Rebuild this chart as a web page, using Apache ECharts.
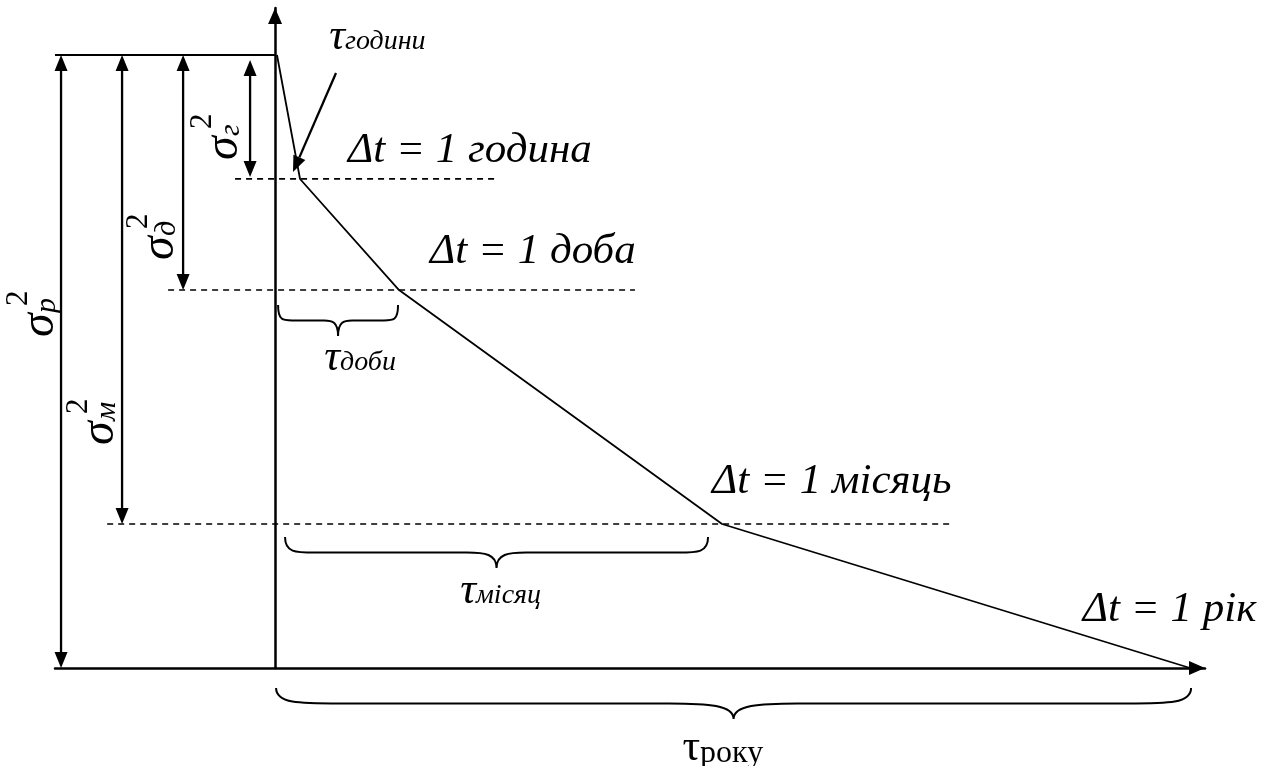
<!DOCTYPE html>
<html><head><meta charset="utf-8">
<script src="https://cdn.jsdelivr.net/npm/echarts@6/dist/echarts.min.js"></script>
<style>html,body{margin:0;padding:0;background:#fff}#c{width:1268px;height:766px}</style>
</head><body><div id="c"></div>
<script>
// x: time as % of a year (0 = vertical axis, 100 = 1 рік); y: variance as % of σp²
const curveX = [0.21, 2.73, 13.55, 48.85, 100];
const curveY = [100, 79.77, 61.66, 23.49, 0];
const levelY = [79.8, 61.66, 23.49];            // after 1 година, 1 доба, 1 місяць
const levelXStart = [-4.37, -11.69, -18.35];
const levelXEnd = [24.04, 39.33, 73.75];
const topLineX = [-24.05, 0];
const topValue = 100;
const xAxisMin = -24.05, xAxisMax = 101.63;
const yAxisMin = 0, yAxisMax = 107.67;

const sigmaNames = ['p', 'м', 'д', 'г'];
const sigmaArrowX = [-23.39, -16.72, -10.05, -2.73];
const sigmaArrowFrom = [100, 100, 100, 99.2];
const sigmaArrowTo = [0, 23.49, 61.66, 80.1];
const sigmaLabelX = [-25.69, -19.13, -12.56, -5.58];
const sigmaLabelY = [54.0, 36.38, 66.56, 82.87];

const dtLabels = ['Δt = 1 година', 'Δt = 1 доба', 'Δt = 1 місяць', 'Δt = 1 рік'];
const dtLabelX = [7.97, 16.93, 47.76, 88.27];
const dtLabelY = [84.34, 67.86, 30.34, 9.46];

const tauNames = ['години', 'доби', 'місяц', 'року'];
const tauItalic = [true, true, true, false];
const tauLabelX = [7.64, 7.10, 21.96, 46.45];
const tauLabelY = [102.94, 50.57, 12.56, -13.2];

const braceXStart = [0.33, 1.09, 0.11];
const braceXEnd = [13.44, 47.32, 100.11];
const braceYTop = [59.22, 21.37, -3.26];

const hourPointerFrom = [6.66, 97.06];
const hourPointerTo = [1.96, 80.91];

const SERIF = '"Liberation Serif","Times New Roman",serif';
const chart = echarts.init(document.getElementById('c'), null, {renderer: 'canvas'});

function head(tip, from, len, w) {
  const dx = tip[0] - from[0], dy = tip[1] - from[1];
  const L = Math.hypot(dx, dy) || 1;
  const ux = dx / L, uy = dy / L;
  const bx = tip[0] - ux * len, by = tip[1] - uy * len;
  const nx = -uy, ny = ux;
  return {
    base: [bx, by],
    el: {type: 'polygon', shape: {points: [tip, [bx + nx * w / 2, by + ny * w / 2], [bx - nx * w / 2, by - ny * w / 2]]},
         style: {fill: '#000'}}
  };
}
function txt(x, y, text, font, align) {
  return {type: 'text', x: x, y: y,
    style: {text: text, font: font, fill: '#000', align: align, verticalAlign: 'middle',
            textAlign: align, textVerticalAlign: 'middle'}};
}

const dashedSeries = levelY.map((y, i) => ({
  type: 'line', data: [[levelXStart[i], y], [levelXEnd[i], y]], symbol: 'none', silent: true,
  clip: false, lineStyle: {color: '#000', width: 1.6, type: [6, 5]}, z: 2
}));

const option = {
  animation: false,
  backgroundColor: '#fff',
  grid: {left: 55, right: 63, top: 8, bottom: 98, outerBoundsMode: 'none', containLabel: false},
  xAxis: {type: 'value', min: xAxisMin, max: xAxisMax,
    axisLine: {onZero: true, lineStyle: {color: '#000', width: 2.5}},
    axisTick: {show: false}, axisLabel: {show: false}, splitLine: {show: false}},
  yAxis: {type: 'value', min: yAxisMin, max: yAxisMax,
    axisLine: {onZero: true, lineStyle: {color: '#000', width: 2.5}},
    axisTick: {show: false}, axisLabel: {show: false}, splitLine: {show: false}},
  series: [
    {type: 'line', name: 'σ²(Δt)', data: curveX.map((x, i) => [x, curveY[i]]), symbol: 'none', silent: true,
     clip: false, lineStyle: {color: '#000', width: 1.8}, z: 3},
    {type: 'line', data: topLineX.map(x => [x, topValue]), symbol: 'none', silent: true, clip: false,
     lineStyle: {color: '#000', width: 1.8}, z: 3},
    ...dashedSeries,
    // axis arrowheads at the axis ends
    {type: 'custom', silent: true, clip: false, z: 6,
     data: [[0, yAxisMax, 0, yAxisMin], [xAxisMax, 0, 0, 0]],
     renderItem(params, api) {
       const tip = api.coord([api.value(0), api.value(1)]);
       const from = api.coord([api.value(2), api.value(3)]);
       return head(tip, from, 16, 14).el;
     }},
    // double arrows σ²
    {type: 'custom', silent: true, clip: false, z: 4,
     data: sigmaArrowX.map((x, i) => [x, sigmaArrowFrom[i], sigmaArrowTo[i]]),
     renderItem(params, api) {
       const a = api.coord([api.value(0), api.value(1)]);
       const b = api.coord([api.value(0), api.value(2)]);
       const h1 = head(a, b, 16, 13), h2 = head(b, a, 16, 13);
       return {type: 'group', children: [
         {type: 'line', shape: {x1: h1.base[0], y1: h1.base[1], x2: h2.base[0], y2: h2.base[1]},
          style: {stroke: '#000', lineWidth: 2.3}},
         h1.el, h2.el]};
     }},
    // pointer to τ години
    {type: 'custom', silent: true, clip: false, z: 4,
     data: [[hourPointerFrom[0], hourPointerFrom[1], hourPointerTo[0], hourPointerTo[1]]],
     renderItem(params, api) {
       const a = api.coord([api.value(0), api.value(1)]);
       const b = api.coord([api.value(2), api.value(3)]);
       const h = head(b, a, 16, 13);
       return {type: 'group', children: [
         {type: 'line', shape: {x1: a[0], y1: a[1], x2: h.base[0], y2: h.base[1]},
          style: {stroke: '#000', lineWidth: 2.3}}, h.el]};
     }},
    // braces
    {type: 'custom', silent: true, clip: false, z: 4,
     data: braceXStart.map((x, i) => [x, braceXEnd[i], braceYTop[i]]),
     renderItem(params, api) {
       const p1 = api.coord([api.value(0), api.value(2)]);
       const p2 = api.coord([api.value(1), api.value(2)]);
       const x1 = p1[0], x2 = p2[0], y0 = p1[1], h = 31;
       const xm = (x1 + x2) / 2, ym = y0 + h / 2, yt = y0 + h;
       const r = Math.max(14, (x2 - x1) * 0.07);
       const q = (yt - ym);
       const d = `M${x1},${y0} C${x1},${ym} ${x1 + r * 0.35},${ym} ${x1 + r},${ym} L${xm - r},${ym} ` +
         `C${xm - r * 0.4},${ym} ${xm},${ym + q * 0.1} ${xm},${yt} ` +
         `C${xm},${ym + q * 0.1} ${xm + r * 0.4},${ym} ${xm + r},${ym} ` +
         `L${x2 - r},${ym} C${x2 - r * 0.35},${ym} ${x2},${ym} ${x2},${y0}`;
       return {type: 'path', shape: {pathData: d}, style: {stroke: '#000', fill: null, lineWidth: 2}};
     }},
    // Δt labels
    {type: 'custom', silent: true, clip: false, z: 5,
     data: dtLabelX.map((x, i) => [x, dtLabelY[i]]),
     renderItem(params, api) {
       const p = api.coord([api.value(0), api.value(1)]);
       return txt(p[0], p[1], dtLabels[params.dataIndex], 'italic 43px ' + SERIF, 'left');
     }},
    // τ labels
    {type: 'custom', silent: true, clip: false, z: 5,
     data: tauLabelX.map((x, i) => [x, tauLabelY[i]]),
     renderItem(params, api) {
       const i = params.dataIndex;
       const p = api.coord([api.value(0), api.value(1)]);
       const it = tauItalic[i] ? 'italic ' : '';
       const subSize = tauItalic[i] ? 28 : 32;
       return {type: 'group', x: p[0], y: p[1], children: [
         txt(0, 0, 'τ', it + '44px ' + SERIF, 'right'),
         txt(0, 5, tauNames[i], it + subSize + 'px ' + SERIF, 'left')]};
     }},
    // σ² labels (rotated)
    {type: 'custom', silent: true, clip: false, z: 5,
     data: sigmaLabelX.map((x, i) => [x, sigmaLabelY[i]]),
     renderItem(params, api) {
       const i = params.dataIndex;
       const p = api.coord([api.value(0), api.value(1)]);
       return {type: 'group', x: p[0], y: p[1], rotation: Math.PI / 2, children: [
         txt(0, 0, 'σ', 'italic 48px ' + SERIF, 'left'),
         txt(24, 7, sigmaNames[i], 'italic 30px ' + SERIF, 'left'),
         txt(31, -21, '2', '31px ' + SERIF, 'left')]};
     }}
  ]
};
chart.setOption(option);
</script>
</body></html>
